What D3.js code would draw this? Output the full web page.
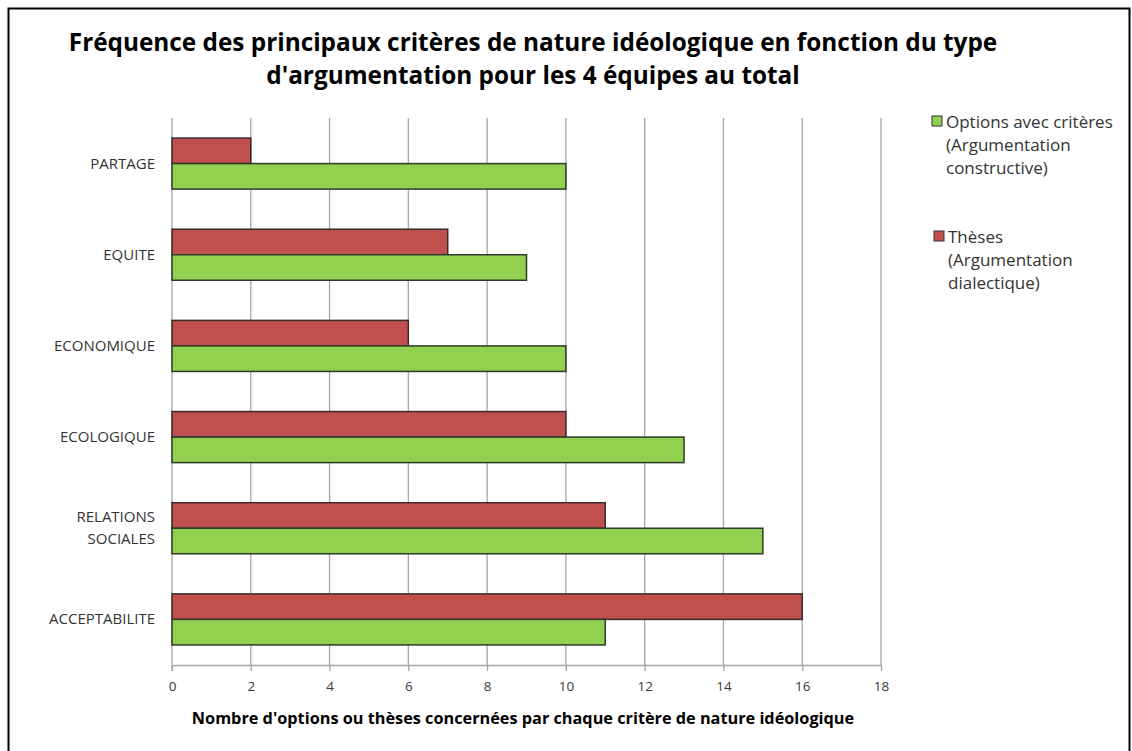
<!DOCTYPE html>
<html>
<head>
<meta charset="utf-8">
<script src="https://cdn.jsdelivr.net/npm/d3@7"></script>
<style>
  body { margin: 0; background: #fff; }
  svg text { font-family: "Open Sans", Lato, sans-serif; }
</style>
</head>
<body>
<div class="chart"></div>
<script>
// Data
const categories = ["PARTAGE", "EQUITE", "ECONOMIQUE", "ECOLOGIQUE", "RELATIONS SOCIALES", "ACCEPTABILITE"];
const theses = [2, 7, 6, 10, 11, 16];        // red, Thèses (Argumentation dialectique)
const options = [10, 9, 10, 13, 15, 11];     // green, Options avec critères
const x_ticks = [0, 2, 4, 6, 8, 10, 12, 14, 16, 18];
const title_lines = [
  "Fréquence des principaux critères de nature idéologique en fonction du type",
  "d'argumentation pour les 4 équipes au total"
];
const x_title = "Nombre d'options ou thèses concernées par chaque critère de nature idéologique";

const width = 1132;
const height = 751;
const plot_left = 172, plot_right = 881, plot_top = 118, plot_bottom = 665;

const svg = d3.select(".chart").append("svg")
  .attr("width", width)
  .attr("height", height);

// outer frame
svg.append("rect")
  .attr("x", 8.5).attr("y", 8.5)
  .attr("width", 1121).attr("height", 750)
  .attr("fill", "#fff")
  .attr("stroke", "#000")
  .attr("stroke-width", 2);

// Title, fitted to the width it has in the picture
const title = svg.append("g").selectAll("text")
  .data(title_lines)
  .enter().append("text")
    .attr("x", 533)
    .attr("y", (d, i) => 51 + i * 33)
    .attr("text-anchor", "middle")
    .style("font-size", "23px")
    .style("font-weight", "bold")
    .attr("fill", "#000")
    .text(d => d);
const title_w = title.node().getComputedTextLength();
title.style("font-size", (23 * 929 / title_w) + "px");

const x = d3.scaleLinear().domain([0, 18]).range([plot_left, plot_right]);
const y = d3.scaleBand().domain(categories).range([plot_top, plot_bottom]).paddingInner(0.44).paddingOuter(0.22);
const sub = d3.scaleBand().domain(["theses", "options"]).range([0, y.bandwidth()]);

// gridlines
svg.append("g").selectAll("line")
  .data(x_ticks.slice(1))
  .enter().append("line")
    .attr("x1", d => x(d)).attr("x2", d => x(d))
    .attr("y1", plot_top).attr("y2", plot_bottom)
    .attr("stroke", "#a6a6a6")
    .attr("stroke-width", 1.3);

// x axis
const xaxis = svg.append("g")
  .attr("transform", `translate(0,${plot_bottom})`)
  .call(d3.axisBottom(x).tickValues(x_ticks).tickSize(6).tickSizeOuter(0));
xaxis.select(".domain").attr("stroke", "#a6a6a6").attr("stroke-width", 1.3);
xaxis.selectAll(".tick line").attr("stroke", "#a6a6a6").attr("stroke-width", 1.3);
xaxis.selectAll(".tick text")
  .attr("y", 16)
  .style("font-size", "13.5px")
  .style("font-family", "'Open Sans', sans-serif")
  .attr("fill", "#3a3a3a");

// y axis line
svg.append("line")
  .attr("x1", plot_left).attr("x2", plot_left)
  .attr("y1", plot_top).attr("y2", plot_bottom + 6)
  .attr("stroke", "#a6a6a6")
  .attr("stroke-width", 1.3);

// category labels
svg.append("g").selectAll("text")
  .data(categories)
  .enter().append("text")
    .attr("text-anchor", "end")
    .attr("fill", "#333")
    .style("font-size", "15px")
    .each(function(d) {
      const words = d === "RELATIONS SOCIALES" ? ["RELATIONS", "SOCIALES"] : [d];
      const cy = y(d) + y.bandwidth() / 2;
      const t = d3.select(this);
      words.forEach((w, i) => {
        t.append("tspan")
          .attr("x", 155)
          .attr("y", cy + 5 + (i - (words.length - 1) / 2) * 22)
          .text(w);
      });
    });

// bars
const bars = svg.append("g");
bars.selectAll("rect.theses")
  .data(theses)
  .enter().append("rect")
    .attr("class", "theses")
    .attr("x", x(0))
    .attr("y", (d, i) => y(categories[i]) + sub("theses"))
    .attr("width", d => x(d) - x(0))
    .attr("height", sub.bandwidth())
    .attr("fill", "#c0504d")
    .attr("stroke", "#3a2a2a")
    .attr("stroke-width", 1.5);
bars.selectAll("rect.options")
  .data(options)
  .enter().append("rect")
    .attr("class", "options")
    .attr("x", x(0))
    .attr("y", (d, i) => y(categories[i]) + sub("options"))
    .attr("width", d => x(d) - x(0))
    .attr("height", sub.bandwidth())
    .attr("fill", "#92d050")
    .attr("stroke", "#2f3a2a")
    .attr("stroke-width", 1.5);

// x axis title, fitted to its width in the picture
const xt = svg.append("text")
  .attr("x", 523)
  .attr("y", 724)
  .attr("text-anchor", "middle")
  .style("font-size", "14px")
  .style("font-weight", "bold")
  .attr("fill", "#000")
  .text(x_title);
xt.style("font-size", (14 * 663 / xt.node().getComputedTextLength()) + "px");

// legend
const legend = [
  { color: "#92d050", lines: ["Options avec critères", "(Argumentation", "constructive)"], x: 932, y: 116 },
  { color: "#c0504d", lines: ["Thèses", "(Argumentation", "dialectique)"], x: 934, y: 231 }
];
const lg = svg.append("g").selectAll("g")
  .data(legend)
  .enter().append("g")
    .attr("transform", d => `translate(${d.x},${d.y})`);
lg.append("rect")
  .attr("width", 10).attr("height", 10)
  .attr("y", 0)
  .attr("fill", d => d.color)
  .attr("stroke", "#333")
  .attr("stroke-width", 1);
lg.each(function(d) {
  d3.select(this).selectAll("text")
    .data(d.lines)
    .enter().append("text")
      .attr("x", 14)
      .attr("y", (l, i) => 12 + i * 23)
      .style("font-size", "17px")
      .attr("fill", "#333")
      .text(l => l);
});
</script>
</body>
</html>
